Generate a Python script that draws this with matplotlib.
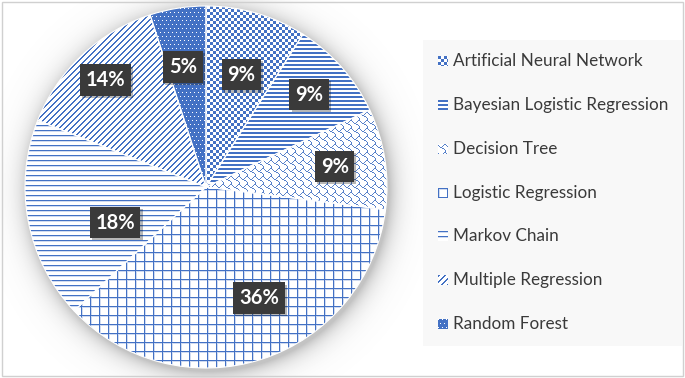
import numpy as np
import matplotlib
matplotlib.use("Agg")
import matplotlib.pyplot as plt
from matplotlib.patches import Rectangle
from matplotlib import patheffects

# data
methods = ["Artificial Neural Network", "Bayesian Logistic Regression", "Decision Tree",
           "Logistic Regression", "Markov Chain", "Multiple Regression", "Random Forest"]
shares = [9, 9, 9, 36, 18, 14, 5]

# label placement (fraction of radius, angle shift in degrees from mid-angle)
label_r = [0.65, 0.765, 0.72, 0.68, 0.54, 0.81, 0.675]
label_shift = [-1.3, 0.5, 0.0, 7.5, 10.6, 0.0, 1.9]

W, H = 685, 378
cx, cy, R = 206, 187, 181       # pie centre / radius in pixels (from top-left)
blue = np.array([0x44, 0x72, 0xC4]) / 255.0

fig = plt.figure(figsize=(W / 100, H / 100), dpi=100)
fig.patch.set_facecolor("white")

ax = fig.add_axes([(cx - R) / W, (H - cy - R) / H, 2 * R / W, 2 * R / H])
ax.set_zorder(2)
wedges, _ = ax.pie(shares, startangle=90, counterclock=False, radius=1,
                   wedgeprops=dict(facecolor="none", edgecolor="white", linewidth=0.8))
ax.set_xlim(-1, 1)
ax.set_ylim(-1, 1)
ax.set_aspect("equal")
ax.set_axis_off()

# pixel patterns (Excel-like pattern fills)
rows, cols = np.mgrid[0:H, 0:W]
shingle = np.array([[int(b) for b in f"{v:08b}"] for v in
                    [0x03, 0x84, 0x48, 0x30, 0x0C, 0x02, 0x01, 0x01]])


def pattern(i, r, c):
    if i == 0:   # checkerboard
        return (((r // 3) + (c // 3)) % 2 == 0).astype(float)
    if i == 1:   # wide horizontal
        return (r % 4 < 2).astype(float)
    if i == 2:   # shingle
        return shingle[r % 8, c % 8] * 0.9
    if i == 3:   # large grid
        return np.maximum((r % 9 == 0) | (c % 9 == 0),
                          0.25 * ((r % 9 == 1) | (c % 9 == 1)))
    if i == 4:   # narrow horizontal
        return np.maximum(r % 5 == 0, 0.25 * (r % 5 == 1))
    if i == 5:   # wide up diagonal
        return ((r + c) % 6 < 2).astype(float)
    # dotted: blue with white dots
    return 1.0 - ((r % 4 == 0) & (c % 4 == ((r // 4) % 2) * 2))


def to_rgba(m):
    m = np.asarray(m, dtype=float)
    img = np.ones(m.shape + (4,))
    img[..., :3] = 1 - m[..., None] * (1 - blue)
    return img


# soft shadow around pie
d = np.hypot(cols - (cx + 2), rows - (cy + 3))
glow = np.zeros((H, W, 4))
glow[..., :3] = 0.45
glow[..., 3] = np.clip(0.42 * np.exp(-(d - R) / 10.0), 0, 0.42)
fig.figimage(glow, 0, 0, origin="upper", zorder=0.5)

for i, w in enumerate(wedges):
    im = fig.figimage(to_rgba(pattern(i, rows, cols)), 0, 0, origin="upper", zorder=1)
    im.set_clip_path(w)

# percentage labels
for i, w in enumerate(wedges):
    ang = np.deg2rad(0.5 * (w.theta1 + w.theta2) + label_shift[i])
    t = ax.text(label_r[i] * np.cos(ang), label_r[i] * np.sin(ang), f"{shares[i]}%",
                ha="center", va="center", color="white", fontsize=14.5,
                fontweight="bold", family="Lato",
                bbox=dict(boxstyle="square,pad=0.28", fc="#3A3A3A", ec="none"))
    t.get_bbox_patch().set_path_effects([
        patheffects.SimplePatchShadow(offset=(1.5, -1.5), alpha=0.3),
        patheffects.Normal()])

# legend (drawn by hand to keep the pixel pattern swatches)
fig.add_artist(Rectangle((423 / W, 1 - 346 / H), (682 - 423) / W, (346 - 40) / H,
                         transform=fig.transFigure, fc="#F8F8F8", ec="none", zorder=0.8))
leg_y = [61, 105, 149, 193, 236, 280, 324]
lr, lc = np.mgrid[0:10, 0:10]
for i, name in enumerate(methods):
    y = leg_y[i]
    fig.figimage(to_rgba(pattern(i, lr, lc)), 438, H - y - 5, origin="upper", zorder=3)
    fig.text(453 / W, 1 - y / H, name, ha="left", va="center", fontsize=12.3,
             color="#3A3A3A", family="Lato", zorder=3)

# outer frame
fig.add_artist(Rectangle((2 / W, 2 / H), (W - 4) / W, (H - 4) / H,
                         transform=fig.transFigure, fill=False, ec="#D0D0D0", lw=1, zorder=4))

fig.savefig("out.png", dpi=100)
